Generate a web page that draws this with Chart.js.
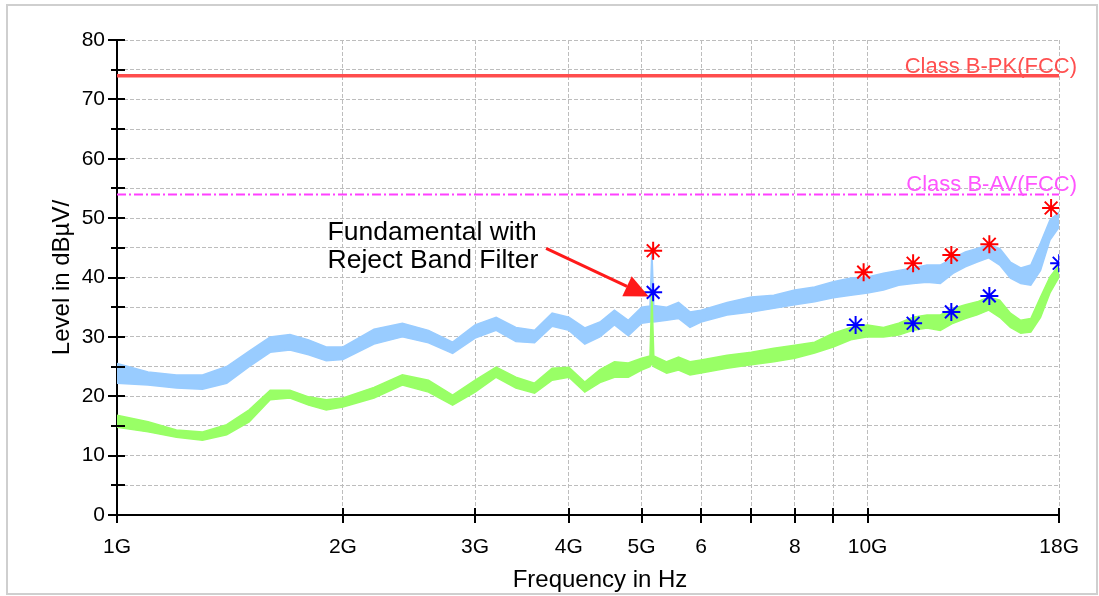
<!DOCTYPE html>
<html>
<head>
<meta charset="utf-8">
<script src="https://cdn.jsdelivr.net/npm/chart.js"></script>
<style>
  html, body { margin: 0; padding: 0; background: #fff; }
  #wrap { position: relative; width: 1099px; height: 596px; }
  #frame { position: absolute; left: 6px; top: 4px; width: 1088px; height: 587px; border: 2px solid #cfcfcf; }
  canvas { position: absolute; left: 0; top: 0; }
</style>
</head>
<body>
<div id="wrap">
  <div id="frame"></div>
  <canvas id="emi" width="1099" height="596"></canvas>
</div>
<script>
// Frequency points in GHz (shared by both traces)
const freqs = [1.0, 1.1, 1.2, 1.3, 1.4, 1.5, 1.6, 1.7, 1.8, 1.9, 2.0, 2.2, 2.4, 2.6, 2.8, 3.0, 3.2, 3.4, 3.6, 3.8,
  4.0, 4.2, 4.4, 4.6, 4.8, 5.0, 5.13, 5.16, 5.19, 5.4, 5.6, 5.8, 6.0, 6.5, 7.0, 7.5, 8.0, 8.5, 9.0, 9.5,
  10, 10.5, 11, 11.5, 12, 12.5, 13, 13.5, 14, 14.5, 15, 15.5, 16, 16.5, 17, 17.5, 18];

// Peak trace (light blue), upper / lower edge of the noise band, dBµV
const peakHi = [25.5, 24.1, 23.6, 23.6, 25.0, 27.6, 30.0, 30.4, 29.5, 28.3, 28.3, 31.3, 32.3, 31.1, 29.1, 32.0, 33.3, 31.6, 31.1, 34.0,
  33.3, 31.5, 32.5, 34.5, 32.8, 35.0, 35.2, 44.5, 35.3, 35.0, 35.8, 34.2, 34.5, 35.8, 36.7, 37.0, 37.9, 38.4, 39.3, 39.9,
  40.1, 40.7, 41.2, 41.6, 42.1, 42.1, 43.3, 44.3, 44.9, 45.5, 44.9, 42.6, 41.6, 42.1, 45.8, 49.7, 51.0];
const peakLo = [22.2, 21.9, 21.4, 21.2, 22.2, 25.0, 27.4, 27.8, 27.0, 26.0, 26.2, 28.8, 30.0, 29.0, 27.2, 29.8, 31.1, 29.2, 29.0, 31.8,
  31.1, 28.8, 30.0, 32.0, 30.2, 32.3, 32.5, 33.0, 32.5, 32.8, 33.1, 31.6, 32.5, 33.7, 34.2, 34.8, 35.4, 35.9, 36.6, 37.0,
  37.4, 37.9, 38.7, 39.0, 39.2, 39.0, 40.7, 41.8, 42.6, 43.3, 42.1, 39.9, 39.0, 38.7, 41.2, 46.3, 48.5];

// Average trace (light green)
const avgHi = [16.8, 15.7, 14.3, 14.0, 15.2, 17.7, 21.0, 21.0, 19.9, 19.4, 19.7, 21.5, 23.6, 22.7, 20.2, 22.7, 24.9, 23.2, 22.2, 24.7,
  24.9, 22.4, 24.5, 25.8, 25.6, 26.4, 26.8, 37.5, 26.8, 25.8, 26.6, 25.8, 26.1, 26.9, 27.4, 28.1, 28.6, 29.1, 30.6, 31.6,
  32.0, 31.6, 32.3, 33.3, 33.7, 33.7, 34.8, 35.4, 35.9, 36.7, 36.2, 34.0, 32.8, 33.1, 36.7, 40.1, 42.1];
const avgLo = [14.8, 14.0, 13.1, 12.6, 13.5, 15.7, 19.4, 19.7, 18.5, 17.7, 18.2, 19.7, 21.9, 20.7, 18.5, 20.7, 23.2, 21.4, 20.5, 22.7,
  23.2, 20.7, 22.3, 23.2, 23.2, 24.4, 25.0, 25.5, 25.0, 23.9, 24.4, 23.6, 23.9, 24.7, 25.3, 25.8, 26.4, 27.3, 28.3, 29.5,
  30.0, 30.0, 30.3, 31.1, 31.5, 31.1, 32.3, 33.1, 33.7, 34.5, 33.3, 31.6, 30.6, 30.8, 33.3, 37.4, 40.1];

// Final measurement markers
const peakMarkFreq = [5.18, 9.88, 11.5, 12.93, 14.53, 17.56];
const peakMarkLevel = [44.5, 40.9, 42.4, 43.8, 45.6, 51.7];
const avgMarkFreq = [5.18, 9.64, 11.5, 12.93, 14.53, 18.0];
const avgMarkLevel = [37.5, 32.0, 32.3, 34.2, 36.9, 42.4];

// Limits
const limitPK = 74;
const limitAV = 54;
const limitNames = ['Class B-PK(FCC)', 'Class B-AV(FCC)'];

// Axis ticks
const xTickVals = [1, 2, 3, 4, 5, 6, 7, 8, 9, 10, 18];
const xTickLabels = ['1G', '2G', '3G', '4G', '5G', '6', '', '8', '', '10G', '18G'];
const yMin = 0, yMax = 80, yStep = 5;

// Annotation
const noteLines = ['Fundamental with', 'Reject Band Filter'];
const notePos = { x: 1.908, y1: 46.3, y2: 41.6 };
const arrowFrom = { x: 3.73, y: 44.9 };
const arrowTo = { x: 5.11, y: 36.8 };

const FONT = '"Liberation Sans", Arial, sans-serif';
const pts = (xs, ys) => xs.map((x, i) => ({ x: x, y: ys[i] }));

const overlay = {
  id: 'overlay',
  afterDraw(chart) {
    const ctx = chart.ctx;
    const xs = chart.scales.x, ys = chart.scales.y;
    const area = chart.chartArea;
    ctx.save();
    // axis ticks crossing the axes
    ctx.strokeStyle = '#000';
    ctx.lineWidth = 2;
    for (let v = yMin; v <= yMax; v += yStep) {
      const py = Math.round(ys.getPixelForValue(v));
      ctx.beginPath();
      ctx.moveTo(v % 10 === 0 ? area.left - 9 : area.left - 6, py);
      ctx.lineTo(area.left + 8, py);
      ctx.stroke();
    }
    xTickVals.forEach(v => {
      const px = Math.round(xs.getPixelForValue(v));
      ctx.beginPath();
      ctx.moveTo(px, area.bottom - 7);
      ctx.lineTo(px, area.bottom + 8);
      ctx.stroke();
    });

    // axis titles
    ctx.fillStyle = '#000';
    ctx.font = '24px ' + FONT;
    ctx.textAlign = 'center';
    ctx.textBaseline = 'middle';
    ctx.fillText('Frequency in Hz', 600, 580);
    ctx.save();
    ctx.translate(62, (area.top + area.bottom) / 2);
    ctx.rotate(-Math.PI / 2);
    ctx.fillText('Level in dBµV/', 0, 0);
    ctx.restore();

    // limit labels
    ctx.font = '22px ' + FONT;
    ctx.textAlign = 'right';
    ctx.textBaseline = 'alphabetic';
    ctx.fillStyle = '#ff5050';
    ctx.fillText(limitNames[0], 1077, ys.getPixelForValue(limitPK) - 3);
    ctx.fillStyle = '#ff55ff';
    ctx.fillText(limitNames[1], 1077, ys.getPixelForValue(limitAV) - 3);

    // annotation
    ctx.fillStyle = '#000';
    ctx.font = '26.5px ' + FONT;
    ctx.textAlign = 'left';
    ctx.fillText(noteLines[0], xs.getPixelForValue(notePos.x), ys.getPixelForValue(notePos.y1));
    ctx.fillText(noteLines[1], xs.getPixelForValue(notePos.x), ys.getPixelForValue(notePos.y2));

    const x0 = xs.getPixelForValue(arrowFrom.x), y0 = ys.getPixelForValue(arrowFrom.y);
    const x1 = xs.getPixelForValue(arrowTo.x), y1 = ys.getPixelForValue(arrowTo.y);
    const ang = Math.atan2(y1 - y0, x1 - x0);
    const headLen = 24, headW = 11;
    const bx = x1 - headLen * Math.cos(ang), by = y1 - headLen * Math.sin(ang);
    ctx.strokeStyle = '#ff1a1a';
    ctx.fillStyle = '#ff1a1a';
    ctx.lineWidth = 3;
    ctx.beginPath();
    ctx.moveTo(x0, y0);
    ctx.lineTo(bx, by);
    ctx.stroke();
    ctx.beginPath();
    ctx.moveTo(x1, y1);
    ctx.lineTo(bx + headW * Math.sin(ang), by - headW * Math.cos(ang));
    ctx.lineTo(bx - headW * Math.sin(ang), by + headW * Math.cos(ang));
    ctx.closePath();
    ctx.fill();
    ctx.restore();
  }
};

const band = (data, color, fill) => ({
  data: data, showLine: true, borderColor: color, backgroundColor: color,
  borderWidth: 1.5, pointRadius: 0, tension: 0, fill: fill
});

new Chart(document.getElementById('emi'), {
  type: 'scatter',
  data: {
    datasets: [
      { data: pts(peakMarkFreq, peakMarkLevel), pointStyle: 'star', radius: 9, borderColor: '#ff0000', borderWidth: 2 },
      { data: pts(avgMarkFreq, avgMarkLevel), pointStyle: 'star', radius: 9, borderColor: '#0000ff', borderWidth: 2 },
      { data: [{ x: 1, y: limitPK }, { x: 18, y: limitPK }], showLine: true, borderColor: '#ff4d4d', borderWidth: 3.5, pointRadius: 0 },
      { data: [{ x: 1, y: limitAV }, { x: 18, y: limitAV }], showLine: true, borderColor: '#ff40ff', borderWidth: 2, borderDash: [9, 3, 2, 3], pointRadius: 0 },
      band(pts(freqs, avgHi), '#99ff66', false),
      band(pts(freqs, avgLo), '#99ff66', '-1'),
      band(pts(freqs, peakHi), '#99ccff', false),
      band(pts(freqs, peakLo), '#99ccff', '-1')
    ]
  },
  options: {
    responsive: false,
    animation: false,
    layout: { padding: { left: 0, top: 40, right: 38, bottom: 0 } },
    plugins: { legend: { display: false }, tooltip: { enabled: false } },
    scales: {
      x: {
        type: 'logarithmic', min: 1, max: 18,
        afterBuildTicks: s => { s.ticks = xTickVals.map(v => ({ value: v })); },
        afterFit: s => { s.height = 81; },
        grid: { color: '#bdbdbd', lineWidth: 1, drawTicks: false },
        border: { color: '#000', width: 2, dash: [4, 2] },
        ticks: {
          color: '#000', padding: 20, maxRotation: 0, autoSkip: false,
          font: { family: FONT, size: 21 },
          callback: v => { const i = xTickVals.indexOf(v); return i >= 0 ? xTickLabels[i] : ''; }
        }
      },
      y: {
        min: yMin, max: yMax,
        afterFit: s => { s.width = 117; },
        grid: { color: '#bdbdbd', lineWidth: 1, drawTicks: false },
        border: { color: '#000', width: 2, dash: [4, 2] },
        ticks: {
          stepSize: yStep, color: '#000', padding: 12,
          font: { family: FONT, size: 21 },
          callback: v => (v % 10 === 0 ? v : '')
        }
      }
    }
  },
  plugins: [overlay]
});
</script>
</body>
</html>
